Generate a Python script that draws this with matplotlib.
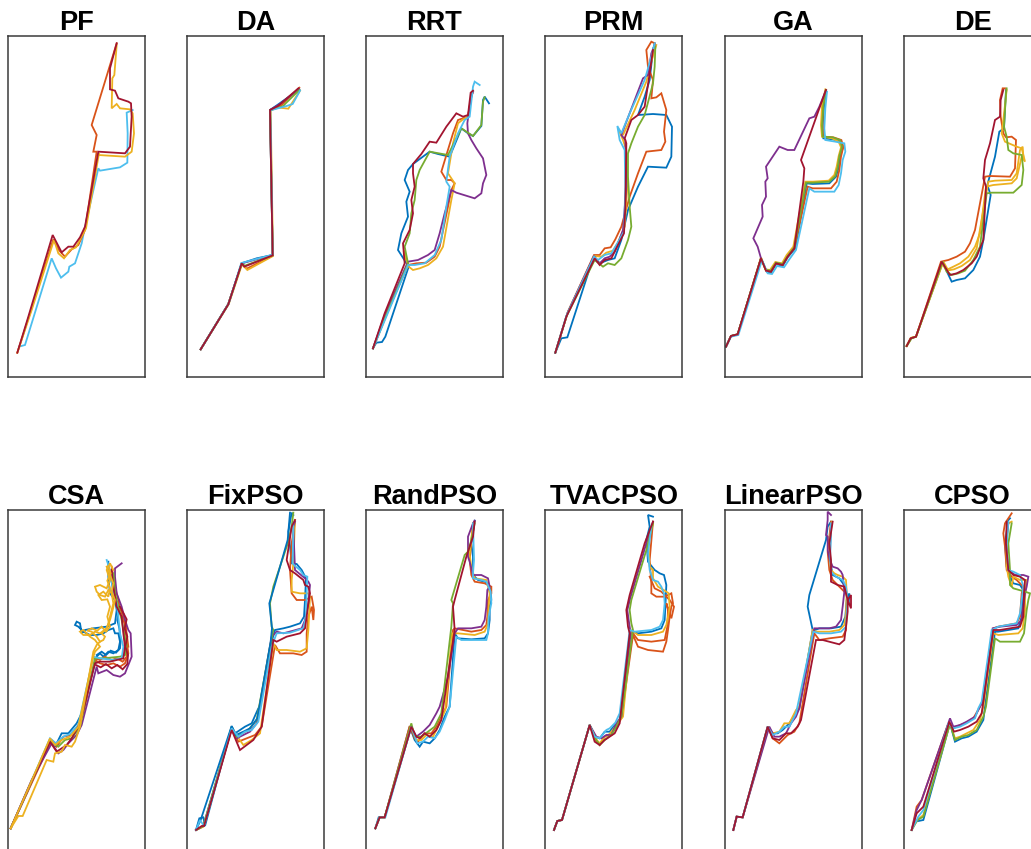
import matplotlib
matplotlib.use("Agg")
import matplotlib.pyplot as plt

plt.rcParams['font.family'] = ['Liberation Sans', 'DejaVu Sans']

COLORS = {'blue': '#0072BD', 'orange': '#D95319', 'yellow': '#EDB120',
          'purple': '#7E2F8E', 'green': '#77AC30', 'lightblue': '#4DBEEE',
          'darkred': '#A2142F'}

TITLES = ['PF', 'DA', 'RRT', 'PRM', 'GA', 'DE',
          'CSA', 'FixPSO', 'RandPSO', 'TVACPSO', 'LinearPSO', 'CPSO']

# per-panel view windows (map units), y reversed
XLIM = {'PF': (22.5, 433.5), 'DA': (20.4, 431.4), 'RRT': (24, 435), 'PRM': (21.9, 432.9),
        'GA': (25.5, 436.5), 'DE': (72, 483), 'CSA': (22.5, 433.5), 'FixPSO': (20.4, 431.4),
        'RandPSO': (24, 435), 'TVACPSO': (21.9, 432.9), 'LinearPSO': (25.5, 436.5), 'CPSO': (72, 483)}
YLIM_TOP = (1131, 108)
YLIM_BOT = (1173, 150)

# ---------------- PF ----------------
PF_lightblue = [(57,1040),(75,1035),(155,775),(168,805),(183,833),(205,815),(208,800),(225,790),(245,730),
                (252,695),(295,505),(300,512),(360,502),(382,488),(383,400),(380,338),(398,330)]
PF_orange = [(52,1058),(90,940),(160,718),(178,752),(195,770),(215,748),(235,735),(255,690),(290,455),
             (280,455),(290,405),(275,375),(350,130)]
PF_yellow = [(52,1058),(95,930),(162,720),(175,760),(192,775),(210,750),(228,742),(258,685),(297,460),
             (295,465),(375,470),(395,455),(402,400),(398,340),(390,328),(360,325),(350,312),(335,325),
             (337,235),(343,225),(350,135)]
PF_darkred = [(52,1058),(85,950),(158,705),(185,757),(205,740),(220,740),(240,712),(255,680),(295,455),
              (375,460),(390,440),(395,350),(393,310),(385,305),(355,295),(345,272),(330,268),(330,205),(350,130)]

# ---------------- DA ----------------
DA_blue = [(62,1048),(145,912),(185,790),(230,775),(278,765),(270,330),(292,315),(358,268)]
DA_orange = [(62,1048),(144,914),(185,792),(200,806),(278,767),(271,330),(305,315),(358,263)]
DA_yellow = [(62,1048),(146,913),(186,793),(202,810),(279,768),(272,332),(290,322),(325,326),(360,272)]
DA_purple = [(62,1048),(145,912),(185,790),(200,786),(278,765),(270,330),(300,312),(357,267)]
DA_green = [(62,1048),(145,912),(185,791),(195,797),(278,766),(270,331),(310,318),(315,312),(358,270)]
DA_lightblue = [(62,1048),(146,911),(184,789),(278,764),(271,331),(320,318),(338,312),(360,272)]
DA_darkred = [(62,1048),(145,913),(185,790),(193,800),(278,766),(270,330),(294,318),(355,265)]

# ---------------- RRT ----------------
RRT_blue = [(45,1045),(55,1028),(72,1026),(82,1010),(152,800),(120,750),(130,700),(150,650),(145,605),
            (155,575),(140,540),(150,510),(165,492),(215,455),(240,462),(275,470),(300,410),(310,385),
            (330,400),(345,408),(370,378),(375,300),(380,290),(393,310)]
RRT_orange = [(45,1045),(90,930),(150,795),(175,790),(205,788),(230,770),(245,740),(270,620),(280,570),
              (290,550),(280,540),(265,540),(250,515),(285,400),(300,360),(315,355),(330,350),(340,290),(345,275)]
RRT_yellow = [(45,1045),(95,920),(150,795),(137,752),(152,800),(165,810),(185,805),(210,795),(235,775),
              (255,740),(280,600),(290,550),(270,520),(285,430),(300,370),(315,358),(330,350),(340,285),(345,275)]
RRT_purple = [(45,1045),(80,945),(150,785),(180,780),(210,765),(230,750),(245,700),(260,640),(280,570),
              (295,578),(350,595),(370,580),(375,550),(385,525),(375,475),(355,445),(340,420),(330,400),
              (328,370),(332,340),(340,290),(345,275)]
RRT_green = [(45,1045),(85,945),(150,790),(140,740),(155,700),(160,640),(170,600),(175,540),(185,510),
             (215,455),(270,465),(310,385),(345,408),(370,375),(375,305),(380,292)]
RRT_lightblue = [(45,1045),(85,950),(150,795),(170,795),(200,790),(230,765),(250,720),(265,620),(275,560),
                 (265,545),(275,470),(300,400),(320,360),(335,350),(345,260),(350,245),(365,255)]
RRT_darkred = [(45,1045),(80,940),(140,790),(135,730),(155,690),(165,640),(160,600),(170,560),(165,520),
               (165,492),(190,462),(215,425),(235,428),(265,380),(295,340),(315,350),(330,345),(338,278),(345,272)]

# ---------------- PRM ----------------
PRM_blue = [(52,1058),(70,1015),(88,1012),(165,775),(185,790),(210,780),(230,775),(250,720),(270,630),
            (300,560),(330,500),(385,503),(400,470),(402,380),(385,345),(345,342),(300,345),(320,290),
            (335,240),(345,150),(350,130)]
PRM_orange = [(52,1058),(90,935),(168,765),(185,765),(200,745),(218,742),(232,718),(250,680),(275,590),
              (300,520),(325,455),(370,450),(382,425),(378,395),(385,330),(370,280),(355,292),(340,295),
              (345,240),(330,200),(325,150),(340,125),(350,130)]
PRM_yellow = [(52,1058),(90,935),(170,768),(190,770),(205,758),(225,752),(240,728),(260,680),(268,560),
              (265,450),(255,420),(240,385),(255,405),(290,330),(325,245),(340,185),(355,135)]
PRM_purple = [(52,1058),(88,940),(168,768),(185,790),(200,775),(215,770),(230,755),(255,690),(265,560),
              (262,420),(250,405),(315,235),(330,225),(340,160),(350,135)]
PRM_green = [(52,1058),(85,950),(170,780),(195,800),(210,790),(230,795),(250,775),(270,720),(280,680),
             (275,620),(270,530),(270,460),(280,430),(300,380),(320,345),(345,250),(350,200),(352,140)]
PRM_lightblue = [(52,1058),(85,948),(168,770),(180,780),(200,765),(220,760),(235,735),(258,695),(262,560),
                 (260,450),(245,420),(238,378),(250,400),(275,340),(320,240),(340,170),(350,130)]
PRM_darkred = [(52,1058),(85,950),(170,775),(185,795),(200,780),(220,775),(240,735),(258,700),(262,620),
               (265,430),(260,415),(280,360),(300,345),(320,320),(335,220),(345,150)]

# ---------------- GA ----------------
GA_blue = [(30,1040),(45,1008),(65,1003),(135,775),(152,815),(165,818),(180,792),(200,798),(215,772),
           (238,745),(272,550),(290,552),(340,550),(360,530),(367,505),(372,470),(380,445),(374,425),
           (350,418),(322,415),(320,380),(324,320),(330,272)]
GA_orange = [(30,1040),(45,1008),(65,1003),(135,775),(150,812),(165,815),(180,790),(200,795),(215,770),
             (235,745),(275,560),(290,565),(345,565),(362,545),(370,510),(375,470),(382,440),(376,420),
             (352,412),(325,410),(320,375),(320,320),(330,270)]
GA_yellow = [(30,1040),(45,1008),(65,1003),(135,772),(148,808),(162,810),(178,786),(198,790),(212,765),
             (232,740),(268,545),(290,545),(338,542),(355,525),(362,500),(368,468),(375,442),(368,425),
             (348,415),(318,410),(315,375),(318,318),(328,268)]
GA_purple = [(30,1040),(45,1008),(65,1003),(135,775),(125,740),(112,715),(140,650),(138,615),(150,590),
             (148,545),(155,535),(150,500),(190,440),(215,450),(235,450),(280,355),(295,350),(310,320),(330,270)]
GA_green = [(30,1040),(45,1008),(65,1003),(135,775),(150,810),(165,812),(180,788),(200,792),(215,768),
            (235,742),(270,548),(290,548),(340,545),(358,528),(365,502),(370,468),(378,440),(372,420),
            (350,412),(320,410),(318,378),(322,318),(330,270)]
GA_lightblue = [(30,1040),(45,1010),(67,1005),(138,780),(155,820),(168,822),(183,798),(204,802),(220,778),
                (240,750),(280,565),(295,575),(355,575),(368,555),(375,520),(380,480),(388,455),(385,430),
                (358,425),(328,420),(325,385),(328,325),(333,275)]
GA_darkred = [(30,1040),(45,1008),(65,1003),(135,775),(150,812),(165,815),(180,790),(200,795),(215,770),
              (235,745),(262,545),(265,505),(255,480),(310,325),(330,270)]

# ---------------- DE ----------------
DE_blue = [(80,1038),(92,1015),(108,1010),(188,788),(215,845),(230,840),(255,835),(280,810),(300,770),
           (310,720),(332,585),(322,555),(345,470),(358,395),(372,385),(378,270)]
DE_orange = [(80,1038),(92,1015),(108,1010),(183,785),(205,780),(230,770),(255,755),(270,730),(285,690),
             (315,530),(330,528),(390,530),(405,505),(408,420),(395,410),(378,412),(370,400),(362,350),
             (360,300),(368,265),(375,265)]
DE_yellow = [(80,1038),(92,1015),(108,1010),(190,785),(203,808),(220,800),(240,790),(265,770),(285,740),
             (300,700),(318,560),(340,555),(395,550),(410,535),(425,470),(435,485),(425,445),(410,440),
             (375,425),(365,400),(370,360),(380,270)]
DE_yellow2 = [(80,1038),(94,1013),(108,1010),(186,790),(200,812),(222,808),(245,798),(270,780),(290,745),
              (325,545),(345,542),(395,540),(410,520),(420,450),(428,440),(430,470)]
DE_green = [(80,1038),(95,1015),(108,1010),(188,785),(200,815),(215,825),(235,820),(255,812),(280,780),
            (300,740),(320,580),(335,578),(400,578),(425,555),(430,510),(425,465),(400,460),(385,450),
            (380,410),(372,380),(378,280),(380,265)]
DE_darkred = [(80,1038),(92,1015),(108,1010),(185,785),(210,825),(230,820),(250,810),(275,790),(290,770),
              (310,720),(318,560),(310,535),(315,480),(330,430),(345,360),(360,350),(362,300),(370,270)]

# ---------------- CSA ----------------
CSA_blue = [(32,1105),(80,1000),(150,840),(165,860),(185,820),(205,820),(230,790),(245,760),(290,590),
            (300,580),(310,590),(325,575),(340,580),(355,570),(360,545),(355,520),(345,520),(340,505),
            (325,510),(310,520),(290,525),(270,525),(250,515),(235,500),(225,495),(230,485),(240,490),
            (245,520),(255,510),(280,505),(320,500),(345,490),(350,450),(345,420),(330,400),(325,350),(325,305)]
CSA_blue2 = [(290,585),(305,575),(318,585),(332,572),(348,578),(360,565),(362,540),(358,505),(352,480),
             (356,455),(348,430),(340,410),(338,380),(332,355)]
CSA_orange = [(32,1105),(90,980),(155,840),(170,860),(190,830),(215,825),(235,795),(250,760),(285,600),
              (300,610),(320,615),(340,610),(360,620),(375,610),(385,580),(380,540),(375,500),(370,460),
              (360,450),(355,420),(345,380),(340,350),(335,320)]
CSA_orange2 = [(285,595),(300,600),(315,590),(335,600),(350,595),(368,605),(380,590),(378,560),(372,530),
               (378,500),(370,480),(365,455),(372,470),(380,520),(385,560)]
CSA_yellow = [(32,1105),(55,1068),(68,1068),(140,900),(160,905),(165,880),(185,875),(195,855),(215,860),
              (225,845),(240,800),(280,575),(285,565),(290,555),(300,545),(310,540),(315,530),(305,520),
              (320,505),(325,490),(330,470),(340,430),(335,400),(325,390),(315,410),(300,405),(290,395),
              (285,380),(300,375),(320,385),(330,360),(320,330),(330,310),(340,330)]
CSA_yellow2 = [(32,1105),(85,985),(150,835),(165,855),(185,840),(210,830),(235,800),(280,590),(285,575),
               (300,560),(285,540),(270,530),(260,520),(250,510),(240,515),(250,525),(270,525),(285,515),
               (300,520),(320,505),(330,480),(338,450),(345,420),(335,395),(340,370),(330,345),(320,320)]
CSA_yellow3 = [(300,545),(290,530),(275,515),(262,512),(275,505),(292,512),(305,500),(318,515),(330,500),
               (322,470),(330,440),(322,418),(305,420),(295,405),(310,395),(325,410),(330,385),(322,362),
               (332,340),(325,318)]
CSA_purple = [(32,1105),(95,960),(155,850),(175,880),(190,870),(205,850),(215,840),(230,825),(245,795),
              (290,620),(295,640),(320,630),(340,645),(360,650),(375,640),(395,590),(392,520),(385,510),
              (375,480),(365,440),(350,400),(345,350),(345,325),(365,310)]
CSA_green = [(32,1105),(90,975),(150,840),(175,860),(195,840),(215,835),(240,800),(285,595),(310,595),
             (340,592),(360,590),(375,585),(380,555),(372,520),(365,480),(355,440),(345,400),(340,340)]
CSA_lightblue = [(32,1105),(88,978),(150,835),(168,850),(190,830),(210,822),(235,795),(280,590),(300,595),
                 (340,600),(365,595),(370,560),(360,520),(355,470),(350,430),(340,400),(330,330),(320,300)]
CSA_darkred = [(32,1105),(85,985),(150,845),(170,875),(200,855),(215,835),(240,790),(285,610),(300,605),
               (330,605),(350,600),(370,595),(375,560),(370,520),(365,470),(350,440),(340,380),(335,330)]
CSA_darkred2 = [(288,615),(302,622),(318,612),(335,625),(352,615),(368,628),(382,612),(384,585),(376,560),
                (382,530),(374,505),(380,478),(368,455),(360,440)]

# ---------------- FixPSO ----------------
FIX_blue = [(48,1110),(58,1075),(70,1072),(75,1098),(155,800),(165,820),(180,810),(195,800),(215,790),
            (235,745),(240,740),(275,545),(285,510),(310,505),(330,500),(360,490),(372,470),(375,420),
            (378,355),(365,330),(350,312),(335,310),(330,258),(325,215),(335,158),(340,165)]
FIX_orange = [(48,1110),(72,1098),(155,805),(175,845),(200,835),(225,825),(245,800),(285,555),(300,580),
              (340,580),(365,585),(380,575),(380,520),(385,470),(395,440),(400,480),(402,450),(395,410),
              (375,420),(350,420),(335,400),(330,330),(335,250),(345,185)]
FIX_yellow = [(48,1110),(70,1100),(155,805),(190,855),(215,840),(240,820),(280,550),(290,570),(320,570),
              (360,575),(380,565),(385,510),(388,450),(390,410),(385,400),(360,400),(335,395),(335,360),
              (340,310),(345,180)]
FIX_purple = [(48,1110),(70,1098),(155,805),(170,835),(190,825),(210,815),(230,790),(275,530),(290,515),
              (310,520),(340,512),(365,505),(375,480),(385,430),(390,375),(385,365),(375,355),(345,330),
              (340,200),(345,185)]
FIX_green = [(48,1110),(70,1098),(155,800),(170,830),(185,820),(205,810),(230,780),(270,560),(280,510),
             (275,500),(270,430),(280,380),(325,245),(335,200),(340,158)]
FIX_blue2 = [(48,1110),(62,1080),(155,798),(168,825),(190,815),(210,805),(232,775),(272,545),(276,505),
             (268,430),(280,390),(323,240),(330,158)]
FIX_lightblue = [(48,1110),(60,1080),(72,1098),(155,805),(175,830),(195,815),(215,810),(235,785),(275,560),
                 (290,520),(330,518),(370,505),(378,470),(380,400),(382,350),(370,345),(360,330),(345,318),
                 (338,310),(340,190)]
FIX_darkred = [(48,1110),(65,1098),(72,1098),(155,810),(180,870),(200,855),(220,840),(245,800),(280,540),
               (290,545),(320,530),(360,520),(375,505),(380,470),(385,430),(390,400),(385,380),(375,375),
               (370,360),(345,340),(330,330),(320,300),(335,200),(345,180)]

# ---------------- RandPSO ----------------
RAND_blue = [(52,1105),(62,1072),(80,1072),(155,800),(170,840),(185,860),(195,845),(215,850),(230,835),
             (245,810),(260,770),(275,740),(290,520),(300,535),(340,538),(380,535),(390,520),(395,480),
             (395,440),(400,420),(398,390),(390,370),(380,365),(360,360),(345,345),(345,290),(340,250),(350,182)]
RAND_orange = [(52,1105),(65,1072),(80,1072),(155,798),(170,835),(180,845),(200,820),(220,820),(235,800),
               (255,760),(265,740),(285,510),(290,505),(340,515),(370,510),(385,495),(388,470),(390,420),
               (400,400),(400,380),(380,370),(350,365),(340,345),(335,300),(345,190)]
RAND_yellow = [(52,1105),(65,1072),(80,1072),(160,800),(175,840),(190,840),(205,825),(225,830),(240,800),
               (262,750),(282,520),(300,520),(350,525),(380,515),(390,490),(392,440),(395,400),(385,360),
               (350,355),(340,320),(335,285),(345,190)]
RAND_purple = [(52,1105),(65,1072),(80,1072),(160,800),(175,830),(195,815),(215,795),(235,760),(245,740),
               (270,650),(290,520),(300,505),(340,505),(370,500),(380,480),(385,440),(388,390),(395,380),
               (390,355),(370,345),(345,345),(335,305),(330,290),(330,230),(345,190),(350,182)]
RAND_green = [(52,1105),(65,1072),(80,1072),(160,790),(170,830),(190,830),(210,815),(230,800),(250,760),
              (280,500),(285,430),(280,420),(320,285),(330,275),(340,240),(350,190)]
RAND_lightblue = [(52,1105),(65,1072),(82,1072),(160,800),(178,850),(195,845),(210,830),(230,835),(245,815),
                  (260,780),(275,740),(295,530),(310,540),(340,540),(385,540),(390,520),(392,470),(400,430),
                  (398,395),(385,365),(370,360),(345,355),(345,340),(348,300),(345,190)]
RAND_darkred = [(52,1105),(65,1072),(80,1072),(160,800),(175,830),(185,835),(200,820),(215,830),(235,810),
                (250,780),(290,510),(285,440),(290,420),(325,290),(345,230),(350,185)]

# ---------------- TVACPSO ----------------
TVAC_blue = [(48,1110),(58,1083),(72,1080),(155,795),(172,830),(185,835),(200,815),(215,815),(230,795),
             (245,780),(280,515),(300,520),(340,515),(370,505),(380,480),(383,420),(385,375),(378,345),
             (365,340),(350,330),(330,305),(325,240),(335,200),(330,165),(345,170)]
TVAC_orange = [(48,1110),(58,1083),(72,1080),(155,795),(172,840),(185,855),(200,830),(215,825),(235,800),
               (250,775),(285,525),(300,560),(330,570),(375,575),(385,545),(390,510),(395,470),(400,440),
               (405,430),(400,400),(380,410),(355,410),(340,400),(340,370),(335,300),(345,185)]
TVAC_orange2 = [(285,520),(300,540),(340,545),(380,540),(388,500),(390,450),(385,430),(400,475),(408,440),
                (395,420),(370,395),(350,385),(335,350)]
TVAC_yellow = [(48,1110),(58,1083),(72,1080),(155,795),(172,835),(185,850),(200,830),(215,822),(235,795),
               (255,770),(280,510),(300,525),(340,525),(375,515),(385,495),(390,470),(395,440),(392,400),
               (385,395),(360,380),(345,355),(345,330),(335,320),(330,240),(345,190)]
TVAC_purple = [(48,1110),(58,1083),(72,1080),(155,795),(175,830),(190,835),(205,825),(220,825),(235,790),
               (250,770),(278,520),(272,480),(268,450),(278,410),(322,260),(345,185)]
TVAC_green = [(48,1110),(58,1083),(72,1080),(155,795),(175,840),(185,855),(200,840),(220,825),(235,800),
              (250,770),(285,510),(280,490),(275,450),(280,420),(325,270),(345,190)]
TVAC_lightblue = [(48,1110),(58,1083),(72,1080),(155,795),(170,830),(185,835),(205,810),(215,805),(232,788),
                  (245,760),(275,510),(290,515),(340,510),(365,500),(375,480),(380,430),(378,400),(370,380),
                  (360,365),(345,360),(335,330),(330,280),(340,200)]
TVAC_darkred = [(48,1110),(58,1083),(72,1080),(155,795),(170,845),(185,855),(200,840),(215,830),(230,820),
                (245,790),(275,520),(270,500),(265,450),(275,405),(320,250),(345,185)]

# ---------------- LinearPSO ----------------
LIN_blue = [(52,1110),(62,1070),(80,1072),(155,800),(170,820),(185,820),(200,810),(220,790),(240,760),
            (250,745),(290,510),(275,440),(280,405),(330,240),(335,200),(345,185)]
LIN_blue2 = [(292,512),(310,505),(345,505),(375,500),(388,470),(392,420),(400,400),(398,430),(388,380),
             (370,355),(350,345),(342,300),(345,190)]
LIN_orange = [(52,1110),(62,1070),(80,1072),(155,800),(170,835),(190,850),(200,840),(215,825),(235,815),
              (250,790),(295,520),(310,540),(340,535),(380,530),(390,510),(392,460),(395,420),(390,400),
              (370,380),(350,360),(340,330),(335,275),(345,185)]
LIN_yellow = [(52,1110),(62,1070),(80,1072),(158,800),(170,820),(190,815),(205,790),(220,790),(240,750),
              (250,740),(290,510),(300,515),(340,515),(370,510),(385,495),(390,460),(392,400),(390,360),
              (380,350),(365,345),(355,340),(345,330),(340,250),(348,185)]
LIN_purple = [(52,1110),(62,1070),(80,1072),(160,800),(175,830),(190,830),(210,820),(225,790),(240,770),
              (250,745),(295,505),(310,505),(340,505),(360,500),(375,480),(380,440),(385,395),(380,345),
              (375,335),(365,325),(350,320),(340,295),(335,270),(335,230),(330,225),(335,180),(335,155),(345,165)]
LIN_lightblue = [(52,1110),(62,1070),(80,1072),(155,800),(170,825),(190,815),(205,800),(220,800),(240,760),
                 (292,515),(310,520),(345,520),(375,515),(390,500),(392,460),(395,420),(390,380),(380,360),
                 (360,350),(345,335),(342,280),(345,190)]
LIN_darkred = [(52,1110),(62,1070),(80,1072),(155,800),(170,835),(190,840),(210,820),(225,820),(245,800),
               (255,780),(300,540),(320,540),(370,553),(385,540),(390,500),(395,455),(395,420),(405,405),
               (405,445),(395,420),(385,380),(365,375),(345,365),(345,340),(345,300),(340,250),(350,185)]

# ---------------- CPSO ----------------
CPSO_blue = [(95,1110),(105,1085),(130,1080),(210,790),(225,845),(245,835),(265,830),(290,815),(310,780),
             (315,740),(345,515),(355,515),(415,505),(425,470),(428,420),(430,390),(420,375),(400,370),
             (390,350),(380,320),(375,250),(385,180),(390,175)]
CPSO_orange = [(95,1110),(110,1040),(125,1020),(205,790),(220,805),(240,795),(255,790),(280,775),(300,740),
               (310,720),(340,505),(355,500),(410,490),(420,470),(425,400),(430,380),(410,360),(395,350),
               (380,330),(375,260),(370,220),(375,190),(395,160)]
CPSO_yellow = [(95,1110),(112,1080),(130,1065),(210,790),(225,835),(240,830),(260,820),(280,810),(300,780),
               (310,740),(340,520),(355,525),(415,520),(428,505),(435,450),(435,410),(440,360),(420,360),
               (400,350),(395,380),(385,350),(380,320),(380,250),(385,190),(395,185)]
CPSO_purple = [(95,1110),(110,1050),(125,1020),(210,775),(220,800),(240,795),(260,785),(285,770),(300,740),
               (310,720),(338,505),(360,500),(410,495),(425,480),(430,440),(435,400),(440,380),(445,350),
               (430,345),(405,345),(385,330),(378,250),(385,190)]
CPSO_green = [(95,1110),(112,1080),(130,1070),(210,790),(225,840),(245,830),(265,825),(290,810),(310,770),
              (318,740),(345,535),(360,545),(420,545),(432,520),(440,450),(445,420),(450,400),(435,395),
              (400,385),(390,375),(390,330),(385,250),(395,190)]
CPSO_lightblue = [(95,1110),(115,1070),(130,1050),(205,790),(220,805),(240,800),(260,790),(285,775),(295,745),
                  (305,725),(335,510),(355,500),(410,490),(420,460),(425,420),(430,380),(420,345),(400,335),
                  (385,330),(380,260),(385,185)]
CPSO_darkred = [(95,1110),(110,1060),(130,1040),(208,785),(222,815),(240,810),(265,800),(290,785),(305,760),
                (340,510),(360,510),(420,500),(430,470),(432,400),(435,360),(420,350),(400,345),(385,330),
                (378,250),(380,185)]

PANELS = {
    'PF': [('lightblue', PF_lightblue), ('orange', PF_orange), ('yellow', PF_yellow), ('darkred', PF_darkred)],
    'DA': [('blue', DA_blue), ('orange', DA_orange), ('yellow', DA_yellow), ('purple', DA_purple),
           ('green', DA_green), ('lightblue', DA_lightblue), ('darkred', DA_darkred)],
    'RRT': [('blue', RRT_blue), ('orange', RRT_orange), ('yellow', RRT_yellow), ('purple', RRT_purple),
            ('green', RRT_green), ('lightblue', RRT_lightblue), ('darkred', RRT_darkred)],
    'PRM': [('blue', PRM_blue), ('orange', PRM_orange), ('yellow', PRM_yellow), ('purple', PRM_purple),
            ('green', PRM_green), ('lightblue', PRM_lightblue), ('darkred', PRM_darkred)],
    'GA': [('blue', GA_blue), ('orange', GA_orange), ('yellow', GA_yellow), ('purple', GA_purple),
           ('green', GA_green), ('lightblue', GA_lightblue), ('darkred', GA_darkred)],
    'DE': [('blue', DE_blue), ('orange', DE_orange), ('yellow', DE_yellow), ('yellow', DE_yellow2),
           ('green', DE_green), ('darkred', DE_darkred)],
    'CSA': [('blue', CSA_blue), ('blue', CSA_blue2), ('orange', CSA_orange), ('orange', CSA_orange2),
            ('purple', CSA_purple), ('green', CSA_green), ('lightblue', CSA_lightblue),
            ('darkred', CSA_darkred), ('darkred', CSA_darkred2),
            ('yellow', CSA_yellow), ('yellow', CSA_yellow2), ('yellow', CSA_yellow3)],
    'FixPSO': [('blue', FIX_blue), ('orange', FIX_orange), ('yellow', FIX_yellow), ('purple', FIX_purple),
               ('green', FIX_green), ('blue', FIX_blue2), ('lightblue', FIX_lightblue), ('darkred', FIX_darkred)],
    'RandPSO': [('blue', RAND_blue), ('orange', RAND_orange), ('yellow', RAND_yellow), ('purple', RAND_purple),
                ('green', RAND_green), ('lightblue', RAND_lightblue), ('darkred', RAND_darkred)],
    'TVACPSO': [('blue', TVAC_blue), ('orange', TVAC_orange), ('orange', TVAC_orange2), ('yellow', TVAC_yellow),
                ('purple', TVAC_purple), ('green', TVAC_green), ('lightblue', TVAC_lightblue),
                ('darkred', TVAC_darkred)],
    'LinearPSO': [('blue', LIN_blue), ('blue', LIN_blue2), ('orange', LIN_orange), ('yellow', LIN_yellow),
                  ('purple', LIN_purple), ('lightblue', LIN_lightblue), ('darkred', LIN_darkred)],
    'CPSO': [('blue', CPSO_blue), ('orange', CPSO_orange), ('yellow', CPSO_yellow), ('purple', CPSO_purple),
             ('green', CPSO_green), ('lightblue', CPSO_lightblue), ('darkred', CPSO_darkred)],
}

W, H = 1031, 849
fig = plt.figure(figsize=(W / 100, H / 100), dpi=100)

col_left = [7.5, 186.8, 366, 545.3, 724.5, 904]
row_top = [36, 510]
aw, ah = 137, 341

for i, name in enumerate(TITLES):
    r, c = divmod(i, 6)
    left = col_left[c] / W
    bottom = (H - row_top[r] - ah) / H
    ax = fig.add_axes([left, bottom, aw / W, ah / H])
    for cname, pts in PANELS[name]:
        xs = [p[0] for p in pts]
        ys = [p[1] for p in pts]
        ax.plot(xs, ys, color=COLORS[cname], lw=1.3, solid_joinstyle='miter')
    ax.set_xlim(*XLIM[name])
    ax.set_ylim(*(YLIM_TOP if r == 0 else YLIM_BOT))
    ax.set_xticks([])
    ax.set_yticks([])
    for s in ax.spines.values():
        s.set_color('#3a3a3a')
        s.set_linewidth(1.1)
    ax.set_title(name, fontsize=19.5, fontweight='bold', pad=4.5)

fig.savefig('out.png', dpi=100)
